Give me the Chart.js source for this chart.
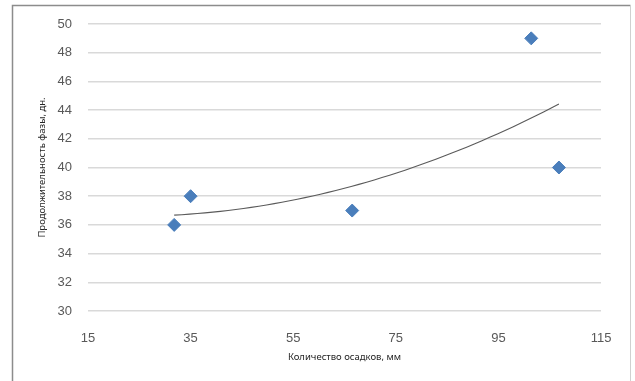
<!DOCTYPE html>
<html lang="ru">
<head>
<meta charset="utf-8">
<script src="https://cdn.jsdelivr.net/npm/chart.js"></script>
<style>
    html, body { margin: 0; padding: 0; background: #ffffff; }
    #wrap { width: 635px; height: 381px; position: relative; }
</style>
</head>
<body>
<div id="wrap"><canvas id="c"></canvas></div>
<script>
    // значения
    const rainfall = [31.8, 35, 66.5, 101.4, 106.8];   // количество осадков, мм
    const phaseDays = [36, 38, 37, 49, 40];           // продолжительность фазы, дн.
    const xTicks = [15, 35, 55, 75, 95, 115];
    const yTicks = [30, 32, 34, 36, 38, 40, 42, 44, 46, 48, 50];

    // полиномиальная линия тренда 2-й степени (как в Excel), МНК
    function quadFit(xs, ys) {
        let s0 = xs.length, s1 = 0, s2 = 0, s3 = 0, s4 = 0, t0 = 0, t1 = 0, t2 = 0;
        for (let i = 0; i < xs.length; i++) {
            const x = xs[i], y = ys[i];
            s1 += x; s2 += x * x; s3 += x * x * x; s4 += x * x * x * x;
            t0 += y; t1 += x * y; t2 += x * x * y;
        }
        const det3 = (m) =>
            m[0][0] * (m[1][1] * m[2][2] - m[1][2] * m[2][1]) -
            m[0][1] * (m[1][0] * m[2][2] - m[1][2] * m[2][0]) +
            m[0][2] * (m[1][0] * m[2][1] - m[1][1] * m[2][0]);
        const M = [[s0, s1, s2], [s1, s2, s3], [s2, s3, s4]];
        const T = [t0, t1, t2];
        const D = det3(M);
        const coef = [0, 1, 2].map(j => det3(M.map((row, r) => row.map((v, c) => c === j ? T[r] : v))) / D);
        return x => coef[0] + coef[1] * x + coef[2] * x * x;
    }
    const fit = quadFit(rainfall, phaseDays);
    const xMin = Math.min(...rainfall), xMax = Math.max(...rainfall);
    const trend = [];
    for (let k = 0; k <= 50; k++) {
        const x = xMin + (xMax - xMin) * k / 50;
        trend.push({ x: x, y: fit(x) });
    }

    const points = rainfall.map((x, i) => ({ x: x, y: phaseDays[i] }));

    // рамка области диаграммы
    const framePlugin = {
        id: 'frame',
        beforeDraw(chart) {
            const c = chart.ctx;
            c.save();
            c.strokeStyle = '#8c8c8c';
            c.lineWidth = 1.5;
            c.beginPath();
            c.moveTo(12.5, 381);
            c.lineTo(12.5, 5.5);
            c.lineTo(630.5, 5.5);
            c.stroke();
            c.strokeStyle = '#d0d0d0';
            c.lineWidth = 1;
            c.beginPath();
            c.moveTo(630.5, 5.5);
            c.lineTo(630.5, 381);
            c.stroke();
            c.restore();
        }
    };

    new Chart(document.getElementById('c'), {
        type: 'scatter',
        data: {
            datasets: [
                {
                    label: 'Продолжительность фазы',
                    data: points,
                    pointStyle: 'rectRot',
                    pointRadius: 6.5,
                    pointHoverRadius: 6.5,
                    backgroundColor: '#4a7ebb',
                    borderColor: '#4a7ebb',
                    borderWidth: 1,
                    order: 1
                },
                {
                    label: 'Полиномиальная',
                    type: 'line',
                    data: trend,
                    borderColor: '#5a5a5a',
                    borderWidth: 1.1,
                    pointRadius: 0,
                    fill: false,
                    tension: 0,
                    order: 2
                }
            ]
        },
        options: {
            responsive: true,
            maintainAspectRatio: false,
            animation: false,
            layout: { padding: { left: 13, right: 34, top: 24, bottom: 0 } },
            plugins: {
                legend: { display: false },
                tooltip: { enabled: false }
            },
            scales: {
                x: {
                    type: 'linear',
                    min: 15,
                    max: 115,
                    afterBuildTicks(scale) { scale.ticks = xTicks.map(v => ({ value: v })); },
                    afterFit(scale) { scale.height = 70; },
                    grid: { display: false },
                    border: { display: false },
                    ticks: {
                        padding: 12,
                        color: '#595959',
                        font: { family: 'Liberation Sans', size: 13 }
                    },
                    title: {
                        display: true,
                        text: 'Количество осадков, мм',
                        color: '#262626',
                        font: { family: 'Noto Sans', size: 9.5 },
                        padding: { top: 0, bottom: 18 }
                    }
                },
                y: {
                    min: 30,
                    max: 50,
                    afterBuildTicks(scale) { scale.ticks = yTicks.map(v => ({ value: v })); },
                    afterFit(scale) { scale.width = 75; },
                    grid: { color: '#d9d9d9', lineWidth: 1.5, drawTicks: false },
                    border: { display: false },
                    ticks: {
                        padding: 16,
                        color: '#595959',
                        font: { family: 'Liberation Sans', size: 13 }
                    },
                    title: {
                        display: true,
                        text: 'Продолжительность фазы, дн.',
                        color: '#262626',
                        font: { family: 'Noto Sans', size: 9.5 },
                        padding: { top: 24, bottom: 0 }
                    }
                }
            }
        },
        plugins: [framePlugin]
    });
</script>
</body>
</html>
